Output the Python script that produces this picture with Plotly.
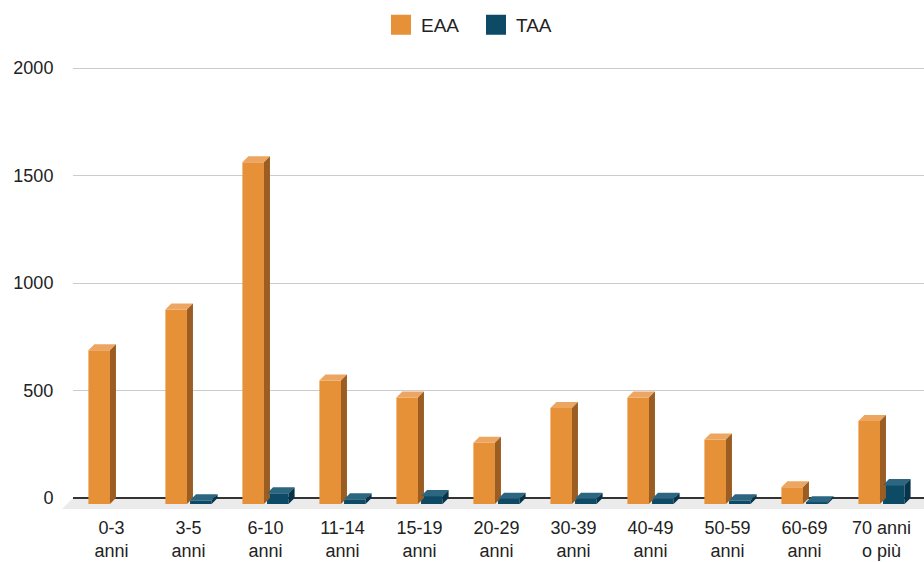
import plotly.graph_objects as go

# ---- data -------------------------------------------------------------
categories = ["0-3<br>anni", "3-5<br>anni", "6-10<br>anni", "11-14<br>anni",
              "15-19<br>anni", "20-29<br>anni", "30-39<br>anni", "40-49<br>anni",
              "50-59<br>anni", "60-69<br>anni", "70 anni<br>o più"]
eaa = [715, 905, 1590, 575, 495, 285, 447, 495, 300, 78, 386]
taa = [0, 17, 50, 22, 37, 25, 25, 25, 17, 8, 88]
y_ticks = [0, 500, 1000, 1500, 2000]

# ---- geometry ---------------------------------------------------------
W, H = 924, 562
ML, MR, MT, MB = 73, 0, 58, 52
PX_PER_UNIT = 0.215                 # vertical scale of the value axis
CAT_PX = 77                          # width of one category slot
plot_h = H - MT - MB
zero_px = 440                        # distance from plot top to the zero line
y_range = [-(plot_h - zero_px) / PX_PER_UNIT, zero_px / PX_PER_UNIT]
plot_w = W - ML - MR
x_range = [-0.5, -0.5 + plot_w / CAT_PX]

DEPTH_PX = 6                         # fake 3D depth of each bar
dx = DEPTH_PX / CAT_PX
dy = DEPTH_PX / PX_PER_UNIT

series = [
    dict(name="EAA", values=eaa, offset=-0.30, width=0.28,
         front="#E69138", top="#EDA661", side="#9B5D22"),
    dict(name="TAA", values=taa, offset=0.02, width=0.28,
         front="#0C4A66", top="#2D6681", side="#083449"),
]

idx = list(range(len(categories)))
fig = go.Figure()


def box_faces(values, off, width):
    """Polygons for the top and right-hand faces of every bar."""
    tx, ty, sx, sy = [], [], [], []
    for i, v in enumerate(values):
        if v <= 0:
            continue
        x0 = i + off
        x1 = x0 + width
        tx += [x0, x1, x1 + dx, x0 + dx, x0, None]
        ty += [v - dy, v - dy, v, v, v - dy, None]
        sx += [x1, x1 + dx, x1 + dx, x1, x1, None]
        sy += [-dy, 0, v, v - dy, -dy, None]
    return tx, ty, sx, sy


for s in series:
    fig.add_trace(go.Bar(
        x=idx, y=s["values"], base=[-dy] * len(idx),
        offset=s["offset"], width=s["width"],
        marker=dict(color=s["front"], line=dict(width=0)),
        showlegend=False, hoverinfo="skip",
    ))
for s in series:
    tx, ty, sx, sy = box_faces(s["values"], s["offset"], s["width"])
    fig.add_trace(go.Scatter(x=tx, y=ty, mode="lines", fill="toself",
                             fillcolor=s["top"], line=dict(width=0),
                             showlegend=False, hoverinfo="skip"))
    fig.add_trace(go.Scatter(x=sx, y=sy, mode="lines", fill="toself",
                             fillcolor=s["side"], line=dict(width=0),
                             showlegend=False, hoverinfo="skip"))
    # legend entry
    fig.add_trace(go.Scatter(x=[None], y=[None], mode="markers", name=s["name"],
                             marker=dict(symbol="square", size=16, color=s["front"],
                                         line=dict(width=4, color=s["front"]))))

# grey floor strip under the zero line (paper coords are relative to the plot area)
FLOOR_PX = 11
floor_top = (plot_h - zero_px) / plot_h
floor_bot = (plot_h - zero_px - FLOOR_PX) / plot_h
fig.add_shape(type="path", xref="paper", yref="paper", layer="below",
              path=f"M 0,{floor_top} L 1.01,{floor_top} "
                   f"L 1.01,{floor_bot} L {-FLOOR_PX / plot_w},{floor_bot} Z",
              fillcolor="#EBEBEB", line=dict(width=0))

fig.update_layout(
    width=W, height=H,
    margin=dict(l=ML, r=MR, t=MT, b=MB, autoexpand=False),
    paper_bgcolor="white", plot_bgcolor="white",
    barmode="overlay",
    font=dict(family="Liberation Sans, Arial, sans-serif", size=18, color="#222222"),
    legend=dict(orientation="h", xref="container", yref="container",
                x=381 / W, xanchor="left", y=1 - 25 / H, yanchor="middle",
                entrywidth=50, entrywidthmode="pixels",
                font=dict(size=19, color="#222222")),
    xaxis=dict(range=x_range, tickmode="array", tickvals=idx, ticktext=categories,
               showgrid=False, zeroline=False, showline=False, automargin=False,
               ticks="outside", ticklen=1, tickcolor="rgba(0,0,0,0)",
               tickfont=dict(size=18)),
    yaxis=dict(range=y_range, tickmode="array", tickvals=y_ticks,
               showgrid=True, gridcolor="#CCCCCC", gridwidth=1,
               zeroline=True, zerolinecolor="#333333", zerolinewidth=1.5,
               showline=False, automargin=False, ticks="outside", ticklen=15,
               tickcolor="rgba(0,0,0,0)", tickfont=dict(size=18)),
)

fig.write_html("out.html")
